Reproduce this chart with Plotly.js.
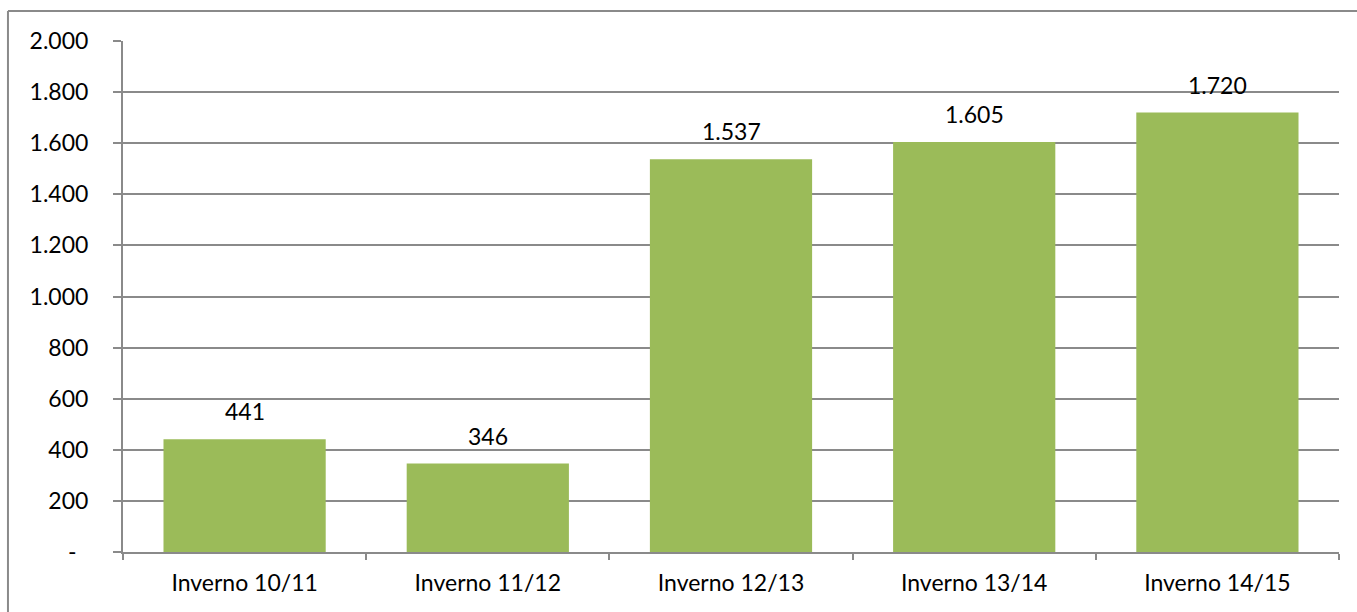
<!DOCTYPE html>
<html><head><meta charset="utf-8">
<script src="https://cdn.plot.ly/plotly-3.0.1.min.js"></script>
<style>html,body{margin:0;padding:0;background:#fff;}#chart{width:1357px;height:612px;}</style>
</head><body><div id="chart"></div>
<script>
const categories = ["Inverno 10/11","Inverno 11/12","Inverno 12/13","Inverno 13/14","Inverno 14/15"];
const values = [441, 346, 1537, 1605, 1720];
const tickValues = [0,200,400,600,800,1000,1200,1400,1600,1800,2000];
const tickLabels = ["-\u00a0\u00a0","200","400","600","800","1.000","1.200","1.400","1.600","1.800","2.000"];
const valueLabels = ["441","346","1.537","1.605","1.720"];

const font = {family: "Lato, 'Open Sans', sans-serif", size: 23, color: "#000"};
const trace = {type: "bar", x: categories, y: values, marker: {color: "#9BBB59"}, hoverinfo: "none"};
const annotations = categories.map((c, i) => ({x: c, y: values[i], text: valueLabels[i], showarrow: false,
  yanchor: "bottom", yshift: 12, font: font}));
const gridColor = "#8a8a8a";
const layout = {
  width: 1357, height: 612,
  margin: {l: 123, r: 18, t: 41, b: 60},
  bargap: 0.333,
  showlegend: false,
  font: font,
  paper_bgcolor: "#fff", plot_bgcolor: "#fff",
  xaxis: {type: "category", tickson: "boundaries", ticks: "outside", ticklen: 6, tickcolor: gridColor, tickwidth: 2,
    showline: true, linecolor: gridColor, linewidth: 2, showgrid: false, tickfont: font, ticklabelstandoff: 9},
  yaxis: {range: [0, 2000], tickvals: tickValues, ticktext: tickLabels, ticks: "outside", ticklen: 8, tickwidth: 2,
    tickcolor: gridColor, showline: true, linecolor: gridColor, linewidth: 2, gridcolor: gridColor, gridwidth: 2,
    zeroline: false, tickfont: font, ticklabelstandoff: 20},
  annotations: annotations,
  shapes: [{type: "line", xref: "paper", yref: "paper", x0: -0.0946, x1: 1.05, y0: 1.0587, y1: 1.0587,
      line: {color: gridColor, width: 2}},
    {type: "line", xref: "paper", yref: "paper", x0: -0.0946, x1: -0.0946, y0: -0.2, y1: 1.0587,
      line: {color: gridColor, width: 2}}]
};
Plotly.newPlot("chart", [trace], layout, {staticPlot: true, displayModeBar: false});
</script></body></html>
